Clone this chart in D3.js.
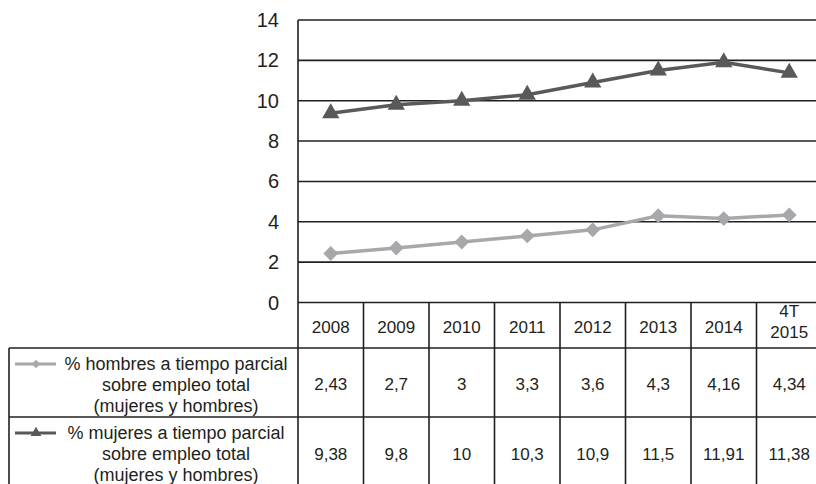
<!DOCTYPE html>
<html>
<head>
<meta charset="utf-8">
<script src="https://cdn.jsdelivr.net/npm/d3@7"></script>
<style>
    body { margin: 0; background: #fff; }
    svg { display: block; font-family: "Liberation Sans", Arial, sans-serif; }
</style>
</head>
<body>
<svg id="chart"></svg>
<script>
// Data
const years = ["2008", "2009", "2010", "2011", "2012", "2013", "2014", "4T 2015"];
const hombres = [2.43, 2.7, 3, 3.3, 3.6, 4.3, 4.16, 4.34];
const mujeres = [9.38, 9.8, 10, 10.3, 10.9, 11.5, 11.91, 11.38];
const hombresLabel = ["% hombres a tiempo parcial", "sobre empleo total", "(mujeres y hombres)"];
const mujeresLabel = ["% mujeres a tiempo parcial", "sobre empleo total", "(mujeres y hombres)"];
const yTicks = [0, 2, 4, 6, 8, 10, 12, 14];

const width = 816;
const height = 484;
const plotLeft = 298;
const colWidth = 65.5;
const plotTop = 20;
const plotBottom = 302.5;
const headerBottom = 348;
const row2Bottom = 417;
const tableLeft = 9;
const lineColour = "#231f20";
const lightGrey = "#a6a8ab";
const darkGrey = "#58595b";

const svg = d3.select("#chart")
    .attr("width", width)
    .attr("height", height);

const xScale = d3.scaleBand()
    .domain(years)
    .range([plotLeft, plotLeft + colWidth * years.length])
    .padding(0);

const yScale = d3.scaleLinear()
    .domain([0, 14])
    .range([plotBottom, plotTop]);

const cx = d => xScale(d) + xScale.bandwidth() / 2;

// Horizontal grid lines
svg.selectAll("line.grid")
    .data(yTicks)
    .join("line")
    .attr("class", "grid")
    .attr("x1", plotLeft)
    .attr("x2", width)
    .attr("y1", d => yScale(d))
    .attr("y2", d => yScale(d))
    .attr("stroke", lineColour)
    .attr("stroke-width", 1.6);

// Y axis labels
svg.selectAll("text.ylab")
    .data(yTicks)
    .join("text")
    .attr("class", "ylab")
    .attr("x", 279)
    .attr("y", d => yScale(d))
    .attr("dy", "0.35em")
    .attr("text-anchor", "end")
    .attr("font-size", 20)
    .attr("fill", lineColour)
    .text(d => d);

// Table lines
svg.append("line")
    .attr("x1", plotLeft).attr("x2", plotLeft)
    .attr("y1", plotTop).attr("y2", height)
    .attr("stroke", lineColour).attr("stroke-width", 1.6);

svg.selectAll("line.coldiv")
    .data(years.slice(1))
    .join("line")
    .attr("class", "coldiv")
    .attr("x1", d => xScale(d))
    .attr("x2", d => xScale(d))
    .attr("y1", plotBottom)
    .attr("y2", height)
    .attr("stroke", lineColour)
    .attr("stroke-width", 1.6);

[headerBottom, row2Bottom].forEach(y => {
    svg.append("line")
        .attr("x1", tableLeft).attr("x2", width)
        .attr("y1", y).attr("y2", y)
        .attr("stroke", lineColour).attr("stroke-width", 1.6);
});

svg.append("line")
    .attr("x1", tableLeft).attr("x2", tableLeft)
    .attr("y1", headerBottom).attr("y2", height)
    .attr("stroke", lineColour).attr("stroke-width", 1.6);

// Header labels
svg.selectAll("text.year")
    .data(years)
    .join("text")
    .attr("class", "year")
    .attr("text-anchor", "middle")
    .attr("font-size", 17)
    .attr("fill", lineColour)
    .each(function (d) {
        const parts = d.split(" ");
        const startY = parts.length > 1 ? 311 : 327;
        parts.forEach((p, i) => {
            d3.select(this).append("tspan")
                .attr("x", cx(d))
                .attr("y", startY + i * 21)
                .attr("dy", "0.35em")
                .text(p);
        });
    });

// Values in table
function drawValues(values, cy) {
    svg.append("g").selectAll("text")
        .data(values)
        .join("text")
        .attr("x", (d, i) => cx(years[i]))
        .attr("y", cy)
        .attr("dy", "0.35em")
        .attr("text-anchor", "middle")
        .attr("font-size", 17)
        .attr("fill", lineColour)
        .text(d => String(d).replace(".", ","));
}
drawValues(hombres, 384);
drawValues(mujeres, 454);

// Diamond = square rotated 45 degrees
function marker(symbol, size) {
    if (symbol === "diamond") return { d: d3.symbol().type(d3.symbolSquare).size(size)(), rot: 45 };
    return { d: d3.symbol().type(d3.symbolTriangle).size(size)(), rot: 0 };
}

// Legend cells
function drawLegendCell(lines, top, colour, symbol, size) {
    lines.forEach((l, i) => {
        svg.append("text")
            .attr("x", 176)
            .attr("y", top + i * 21)
            .attr("dy", "0.35em")
            .attr("text-anchor", "middle")
            .attr("font-size", 18)
            .attr("fill", lineColour)
            .text(l);
    });
    svg.append("line")
        .attr("x1", 15).attr("x2", 56)
        .attr("y1", top).attr("y2", top)
        .attr("stroke", colour).attr("stroke-width", 3);
    const m = marker(symbol, size);
    svg.append("path")
        .attr("d", m.d)
        .attr("transform", `translate(36, ${top}) rotate(${m.rot})`)
        .attr("fill", colour);
}
drawLegendCell(hombresLabel, 364, lightGrey, "diamond", 36);
drawLegendCell(mujeresLabel, 433, darkGrey, "triangle", 50);

// Series lines and markers
const lineGenerator = d3.line()
    .x((d, i) => cx(years[i]))
    .y(d => yScale(d));

function drawSeries(values, colour, symbol, size) {
    svg.append("path")
        .datum(values)
        .attr("d", lineGenerator)
        .attr("fill", "none")
        .attr("stroke", colour)
        .attr("stroke-width", 3.5);

    const m = marker(symbol, size);
    svg.append("g").selectAll("path")
        .data(values)
        .join("path")
        .attr("d", m.d)
        .attr("transform", (d, i) => `translate(${cx(years[i])}, ${yScale(d)}) rotate(${m.rot})`)
        .attr("fill", colour);
}
drawSeries(hombres, lightGrey, "diamond", 110);
drawSeries(mujeres, darkGrey, "triangle", 130);
</script>
</body>
</html>
